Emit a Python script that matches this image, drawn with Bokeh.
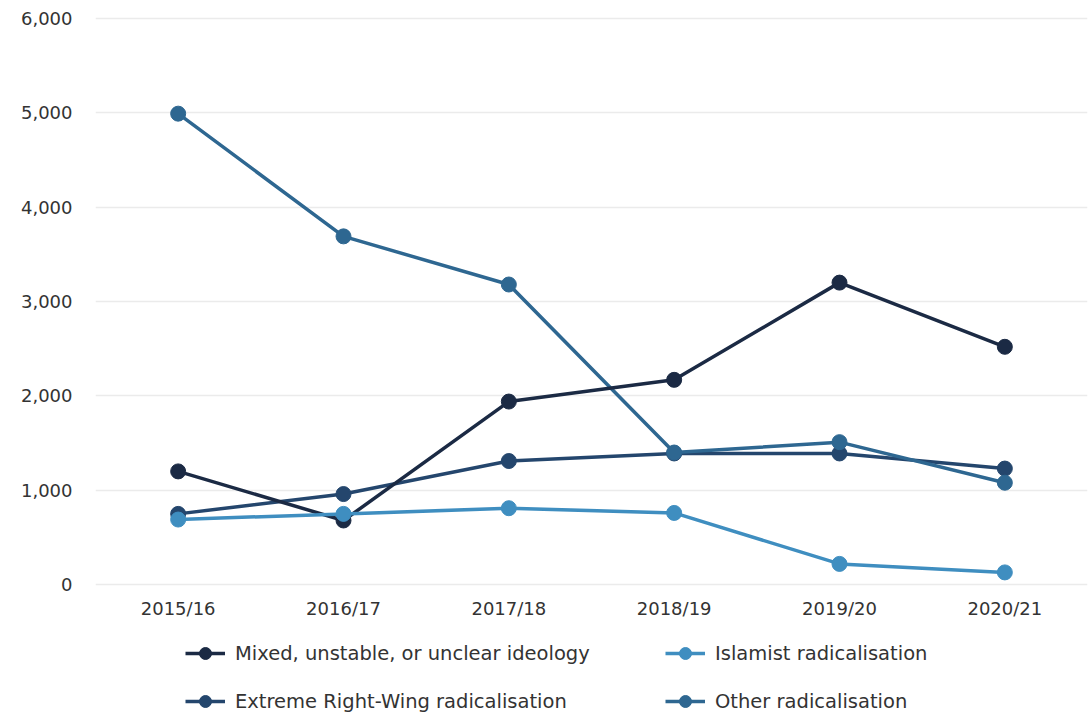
from bokeh.plotting import figure
from bokeh.layouts import column
from bokeh.models import Legend, LegendItem, FactorRange, Range1d, FixedTicker, NumeralTickFormatter
from bokeh.embed import file_html
from bokeh.resources import INLINE

years = ["2015/16", "2016/17", "2017/18", "2018/19", "2019/20", "2020/21"]
mixed = [1200, 680, 1940, 2170, 3200, 2520]
islamist = [690, 750, 810, 760, 220, 130]
erw = [750, 960, 1310, 1390, 1390, 1230]
other = [4990, 3690, 3180, 1400, 1510, 1080]
y_ticks = [0, 1000, 2000, 3000, 4000, 5000, 6000]

names = ["Mixed, unstable, or unclear ideology", "Islamist radicalisation",
         "Extreme Right-Wing radicalisation", "Other radicalisation"]
colors = ["#1b2a44", "#3f8ec0", "#24466d", "#2e6791"]
series = [mixed, islamist, erw, other]

FONT = "DejaVu Sans"
TXT = "#333333"

p = figure(frame_width=992, frame_height=572, x_range=FactorRange(*years, range_padding=0),
           y_range=Range1d(-30, 6030), output_backend="svg", toolbar_location=None,
           min_border_left=95, min_border_right=2, min_border_top=15, min_border_bottom=0)
p.outline_line_color = None
p.xgrid.grid_line_color = None
p.ygrid.grid_line_color = "#ebebeb"
p.ygrid.grid_line_width = 1.5

p.yaxis.ticker = FixedTicker(ticks=y_ticks)
p.yaxis.formatter = NumeralTickFormatter(format="0,0")
for ax in (p.xaxis[0], p.yaxis[0]):
    ax.axis_line_color = None
    ax.major_tick_line_color = None
    ax.minor_tick_line_color = None
    ax.major_label_text_font = FONT
    ax.major_label_text_font_size = "18px"
    ax.major_label_text_color = TXT
p.yaxis.major_label_standoff = 17
p.xaxis.major_label_standoff = 4

order = [2, 3, 0, 1]
for i in order:
    p.line(years, series[i], line_color=colors[i], line_width=3.5)
    p.scatter(years, series[i], size=15, fill_color=colors[i], line_color=colors[i])

# legend strip below the chart
lg = figure(width=1089, height=96, x_range=FactorRange(*years), y_range=Range1d(-20000, -19000),
            output_backend="svg", toolbar_location=None,
            min_border_left=0, min_border_right=0, min_border_top=0, min_border_bottom=0)
lg.outline_line_color = None
lg.axis.visible = False
lg.grid.visible = False
lrs = {}
for i in range(4):
    l = lg.line(years, series[i], line_color=colors[i], line_width=3.5)
    s = lg.scatter(years, series[i], size=13, fill_color=colors[i], line_color=colors[i])
    lrs[i] = [l, s]

def make_legend(idx, x):
    return Legend(items=[LegendItem(label=names[i], renderers=lrs[i]) for i in idx],
                  orientation="vertical", location=(x, 1),
                  label_text_font=FONT, label_text_font_size="19.5px", label_text_color=TXT,
                  glyph_width=40, glyph_height=30, label_height=30, label_standoff=10,
                  spacing=18, border_line_color=None, background_fill_alpha=0,
                  padding=0, margin=0)

lg.add_layout(make_legend([0, 2], 90), "center")
lg.add_layout(make_legend([1, 3], 570), "center")

layout = column(p, lg, spacing=0)
open("out.html", "w").write(file_html(layout, INLINE))
